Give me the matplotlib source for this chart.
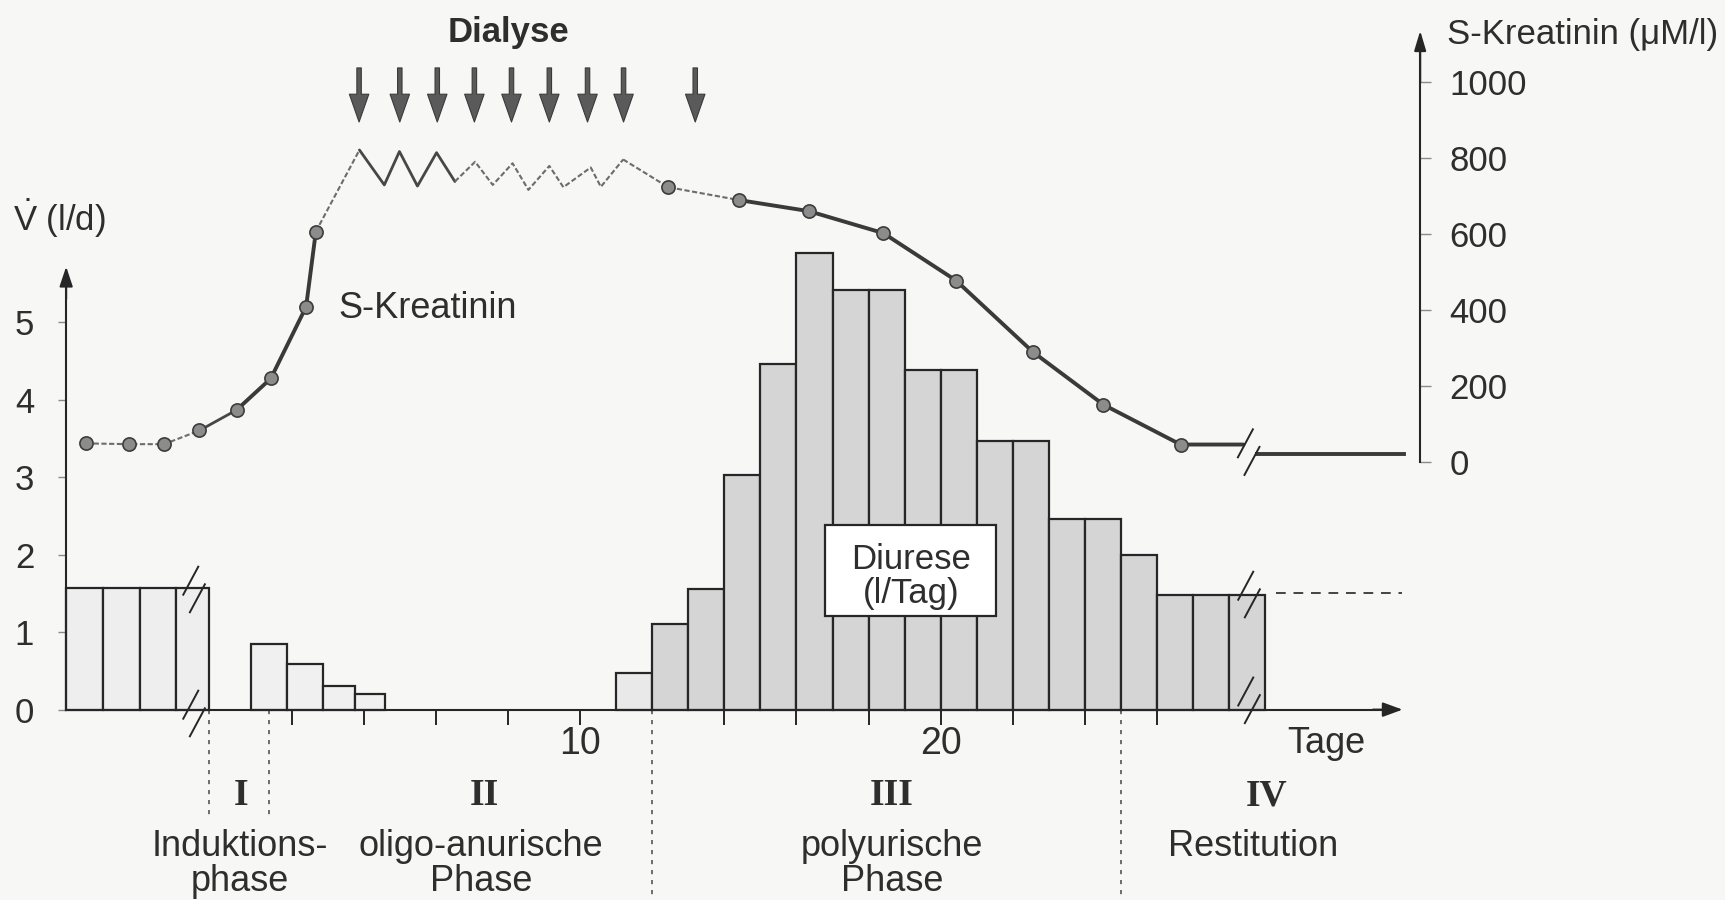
import matplotlib
matplotlib.use("Agg")
import matplotlib.pyplot as plt
from matplotlib.patches import Rectangle
import numpy as np

# ------------------------------------------------------------------ data
# Diurese (l/Tag) -- bars given by their day boundaries / left edges
pre_edges = [-4.27, -3.24, -2.23, -1.22, -0.31]          # before the axis break
pre_vals = [1.57, 1.57, 1.57, 1.57]
ind_edges = [0.85, 1.86, 2.87, 3.76, 4.58]               # induction phase
ind_vals = [0.85, 0.59, 0.30, 0.20]
poly_days = list(range(11, 29))                          # day bars 11..28
poly_vals = [0.47, 1.10, 1.56, 3.03, 4.46, 5.90, 5.42, 5.42, 4.38,
             4.38, 3.47, 3.47, 2.46, 2.46, 2.00, 1.48, 1.48, 1.48]
restitution_level = 1.5
restitution_span = [29.3, 32.8]

# S-Kreatinin (uM/l)
creat_days = [-3.72, -2.52, -1.55, -0.57, 0.46, 1.41, 2.39, 2.66,
              3.87, 4.56, 4.98, 5.48, 6.01, 6.52, 7.08, 7.57, 8.12, 8.56,
              9.14, 9.53, 10.29, 10.57, 11.19,
              12.44, 14.41, 16.34, 18.41, 20.43, 22.56, 24.52, 26.66, 28.40]
creat_vals = [49, 47, 47, 83, 137, 220, 409, 607,
              822, 730, 818, 727, 815, 739, 791, 730, 787, 717,
              780, 724, 776, 725, 797,
              724, 690, 661, 603, 478, 290, 151, 46, 46]
creat_marker_idx = [0, 1, 2, 3, 4, 5, 6, 7, 23, 24, 25, 26, 27, 28, 29, 30]
creat_late_days = [28.78, 32.85]
creat_late_vals = [20, 20]

# Dialysis sessions (days)
dialysis_days = [3.86, 4.99, 6.03, 7.06, 8.09, 9.14, 10.20, 11.20, 13.19]

# Phases
phase_bounds = [-0.31, 1.36, 12.0, 25.0]
phase_numerals = ["I", "II", "III", "IV"]
phase_numeral_x = [0.58, 7.35, 18.65, 29.05]
phase_names = [["Induktions-", "phase"], ["oligo-anurische", "Phase"],
               ["polyurische", "Phase"], ["Restitution"]]
phase_name_x = [0.56, 7.24, 18.65, 28.67]

# axes / ticks
left_ticks = [0, 1, 2, 3, 4, 5]
right_ticks = [0, 200, 400, 600, 800, 1000]
x_ticks = [2, 4, 6, 8, 10, 14, 16, 18, 20, 22, 24, 26]
x_ticklabels = ["", "", "", "", "10", "", "", "", "20", "", "", ""]

# ------------------------------------------------------------------ style
plt.rcParams["font.family"] = ["Liberation Sans", "DejaVu Sans"]
plt.rcParams["mathtext.fontset"] = "custom"
plt.rcParams["mathtext.rm"] = "Liberation Sans"
plt.rcParams["mathtext.it"] = "Liberation Sans:italic"
plt.rcParams["mathtext.bf"] = "Liberation Sans:bold"

PAPER = "#f7f7f5"
INK = "#262626"
TXT = "#2e2e2e"
TICKC = "#8a8a8a"

fig = plt.figure(figsize=(17.25, 9.0), dpi=100, facecolor=PAPER)
ax = fig.add_axes([0, 0, 1, 1])
ax.set_xlim(-6.106, 41.77)
ax.set_ylim(-2.458, 9.162)
ax.patch.set_visible(False)
ax2 = ax.twinx()
ax2.set_ylim(-1154.0, 1217.2)
ax2.patch.set_visible(False)

Y_AXIS_X = pre_edges[0]
RIGHT_AXIS_X = 33.31

# spines
ax.spines["top"].set_visible(False)
ax.spines["right"].set_visible(False)
ax.spines["left"].set_position(("data", Y_AXIS_X))
ax.spines["left"].set_bounds(0, 5.5)
ax.spines["bottom"].set_position(("data", 0))
ax.spines["bottom"].set_bounds(Y_AXIS_X, 32.5)
for s in ("left", "bottom"):
    ax.spines[s].set_linewidth(1.5)
    ax.spines[s].set_color(INK)
for s in ("top", "left", "bottom"):
    ax2.spines[s].set_visible(False)
ax2.spines["right"].set_position(("data", RIGHT_AXIS_X))
ax2.spines["right"].set_bounds(0, 1080)
ax2.spines["right"].set_linewidth(1.5)
ax2.spines["right"].set_color(INK)


def arrow_head(axis, p0, p1, hl, hw):
    axis.annotate("", xy=p1, xytext=p0,
                  arrowprops=dict(arrowstyle=f"-|>,head_length={hl},head_width={hw}",
                                  color=INK, lw=1.5, shrinkA=0, shrinkB=0,
                                  mutation_scale=20))


arrow_head(ax, (Y_AXIS_X, 5.3), (Y_AXIS_X, 5.72), 0.6, 0.2)
arrow_head(ax, (32.0, 0), (32.82, 0), 0.6, 0.22)
arrow_head(ax2, (RIGHT_AXIS_X, 1000), (RIGHT_AXIS_X, 1136), 0.6, 0.18)

# ticks
ax.set_yticks(left_ticks)
ax.set_yticklabels([str(t) for t in left_ticks])
ax.tick_params(axis="y", direction="out", length=6, width=1.0, color=TICKC,
               pad=17, labelsize=25, labelcolor=TXT)
ax.set_xticks(x_ticks)
ax.set_xticklabels(x_ticklabels)
ax.tick_params(axis="x", direction="out", length=11, width=1.4, color=INK,
               pad=1, labelsize=27, labelcolor=TXT)
ax2.set_yticks(right_ticks)
ax2.set_yticklabels([str(t) for t in right_ticks])
ax2.tick_params(axis="y", direction="out", length=8, width=1.0, color=TICKC,
                pad=13, labelsize=25, labelcolor=TXT)

# bars
def edge_bars(axis, edges, vals, fc):
    e = np.asarray(edges, dtype=float)
    axis.bar(e[:-1], vals, width=np.diff(e), align="edge", color=fc,
             edgecolor=INK, linewidth=1.6, zorder=2)


edge_bars(ax, pre_edges, pre_vals, "#eeeeee")
edge_bars(ax, ind_edges, ind_vals, "#f0f0f0")
poly_colors = ["#e9e9e9"] + ["#d5d5d5"] * (len(poly_vals) - 1)
ax.bar(poly_days, poly_vals, width=1.0, align="edge", color=poly_colors,
       edgecolor=INK, linewidth=1.6, zorder=2)
ax.plot(restitution_span, [restitution_level] * 2, color="#444444", lw=1.4,
        ls=(0, (5, 4)), zorder=2)

# Diurese label box
ax.add_patch(Rectangle((16.79, 1.21), 4.75, 1.17, facecolor="white",
                       edgecolor=INK, linewidth=1.6, zorder=4))
ax.text(19.18, 1.818, "Diurese", ha="center", va="baseline", fontsize=25,
        color=TXT, zorder=5)
ax.text(19.18, 1.378, "(l/Tag)", ha="center", va="baseline", fontsize=25,
        color=TXT, zorder=5)

# phase separators and labels
line_bottoms = [-1.43, -1.43, -2.46, -2.46]
for b, lb in zip(phase_bounds, line_bottoms):
    ax.plot([b, b], [0, lb], color="#555555", lw=1.2, ls=(0, (2.5, 3.5)),
            zorder=1)
for x, t in zip(phase_numeral_x, phase_numerals):
    ax.text(x, -1.232, t, ha="center", va="baseline", fontsize=27,
            fontweight="bold", family=["Liberation Serif", "DejaVu Serif"],
            color=TXT)
line_y = [-1.891, -2.345]
for x, lines in zip(phase_name_x, phase_names):
    for k, t in enumerate(lines):
        ax.text(x, line_y[k], t, ha="center", va="baseline", fontsize=26,
                color=TXT)

ax.text(30.7, -0.554, "Tage", ha="center", va="baseline", fontsize=26, color=TXT)
ax.text(-5.745, 6.18, r"$\dot{\mathrm{V}}$ (l/d)", ha="left", va="baseline",
        fontsize=25, color=TXT)
ax.text(8.02, 8.622, "Dialyse", ha="center", va="baseline", fontsize=25,
        fontweight="bold", color=TXT)
ax.text(34.05, 8.594, "S-Kreatinin (\u03bcM/l)", ha="left", va="baseline",
        fontsize=25, color=TXT)
ax.text(3.275, 5.056, "S-Kreatinin", ha="left", va="baseline", fontsize=26,
        color=TXT)

# dialysis arrows
for d in dialysis_days:
    ax.annotate("", xy=(d, 7.587), xytext=(d, 8.285),
                arrowprops=dict(arrowstyle="simple,head_length=1.0,head_width=0.7,tail_width=0.16",
                                facecolor="#5a5a5a", edgecolor="#3a3a3a", lw=0.8,
                                shrinkA=0, shrinkB=0, mutation_scale=20))

# creatinine curve
cd = np.asarray(creat_days)
cv = np.asarray(creat_vals, dtype=float)
seg_styles = {
    "thin": dict(lw=1.5, color="#6c6c6c", ls=(0, (2.5, 1.2))),
    "mid": dict(lw=2.0, color="#474747", ls="-"),
    "thick": dict(lw=2.8, color="#3a3a3a", ls="-"),
}
segments = [(0, 4, "thin"), (3, 5, "mid"), (4, 7, "thick"), (6, 8, "thick"),
            (7, 9, "thin"), (8, 14, "mid"), (13, 23, "thin"), (22, 25, "thin"),
            (24, 32, "thick")]
for a, b, st in segments:
    ax2.plot(cd[a:b], cv[a:b], zorder=5, solid_capstyle="round", **seg_styles[st])
ax2.plot(creat_late_days, creat_late_vals, zorder=5, **seg_styles["thick"])
mi = np.asarray(creat_marker_idx)
ax2.plot(cd[mi], cv[mi], "o", ms=9.5, mfc="#8c8c8c", mec="#3c3c3c", mew=1.2,
         zorder=7)


# break marks (//)
def break_mark(axis, x, y):
    cx, cy = axis.transData.transform((x, y))
    inv = axis.transData.inverted()
    for ox, oy in ((-3.3, 8.8), (3.3, -8.8)):
        p0 = inv.transform((cx + ox - 7.5, cy + oy - 14))
        p1 = inv.transform((cx + ox + 7.5, cy + oy + 14))
        axis.plot([p0[0], p1[0]], [p0[1], p1[1]], color=INK, lw=1.4, zorder=8)


break_mark(ax, -0.72, 1.551)
break_mark(ax, -0.72, -0.05)
break_mark(ax, 28.56, 1.486)
break_mark(ax, 28.56, 0.12)
break_mark(ax2, 28.55, 26)

fig.savefig("out.png", dpi=100, facecolor=PAPER)
